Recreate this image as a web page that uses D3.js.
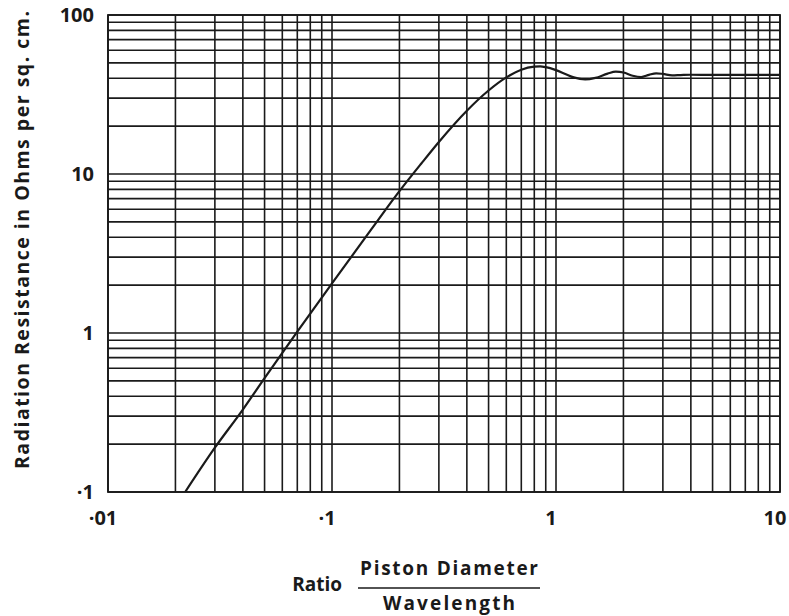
<!DOCTYPE html>
<html>
<head>
<meta charset="utf-8">
<script src="https://cdn.jsdelivr.net/npm/d3@7"></script>
<style>
    body { margin: 0; background: #fff; }
    text { font-family: "Open Sans", Lato, sans-serif; font-weight: bold; fill: #1a1a1a; }
</style>
</head>
<body>
<div id="container"></div>
<script>
// values
const ratio = [0.0221, 0.03, 0.04, 0.05, 0.07, 0.1, 0.15, 0.2, 0.25, 0.3, 0.4, 0.5, 0.6, 0.7, 0.8, 0.85,
    0.9, 1.0, 1.1, 1.2, 1.35, 1.5, 1.7, 1.85, 2.0, 2.2, 2.4, 2.6, 2.8, 3.0, 3.3, 3.6, 4, 5, 7, 10]
const resistance = [0.1, 0.19, 0.33, 0.52, 1.02, 2.05, 4.5, 7.8, 11.6, 15.9, 25, 33.5, 40.5, 45.3, 47.3, 47.5,
    47.0, 45.0, 42.6, 40.5, 39.3, 40.2, 42.8, 44.0, 43.5, 41.5, 40.7, 42.0, 43.0, 42.6, 41.7, 41.9, 42.1, 42, 42, 42]

const xTicks = [0.01, 0.1, 1, 10]
const xTickLabels = ["·01", "·1", "1", "10"]
const yTicks = [0.1, 1, 10, 100]
const yTickLabels = ["·1", "1", "10", "100"]

const margin = { top: 15, right: 9, bottom: 124, left: 108 }
const width = 789 - margin.left - margin.right
const height = 616 - margin.top - margin.bottom
const ink = "#1a1a1a"

const svg = d3.select("#container")
    .append("svg")
    .attr("width", 789)
    .attr("height", 616)

const g = svg.append("g")
    .attr("transform", "translate(" + [margin.left, margin.top] + ")")

const x = d3.scaleLog().domain([0.01, 10]).range([0, width])
const y = d3.scaleLog().domain([0.1, 100]).range([height, 0])

/********************* grid ************************/

g.append("g").selectAll("line")
    .data(x.ticks()).enter()
    .append("line")
    .attr("x1", d => x(d)).attr("x2", d => x(d))
    .attr("y1", 0).attr("y2", height)
    .attr("stroke", ink)
    .attr("stroke-width", 1.6)

g.append("g").selectAll("line")
    .data(y.ticks()).enter()
    .append("line")
    .attr("y1", d => y(d)).attr("y2", d => y(d))
    .attr("x1", 0).attr("x2", width)
    .attr("stroke", ink)
    .attr("stroke-width", 1.6)

g.append("rect")
    .attr("width", width).attr("height", height)
    .attr("fill", "none")
    .attr("stroke", ink)
    .attr("stroke-width", 1.8)

/********************* curve ************************/

g.append("clipPath").attr("id", "plot")
    .append("rect").attr("width", width).attr("height", height)

const line = d3.line()
    .x(d => x(d[0]))
    .y(d => y(d[1]))
    .curve(d3.curveMonotoneX)

g.append("path")
    .datum(d3.zip(ratio, resistance))
    .attr("clip-path", "url(#plot)")
    .attr("fill", "none")
    .attr("stroke", ink)
    .attr("stroke-width", 2.2)
    .attr("d", line)

/********************* labels ************************/

g.append("g").selectAll("text")
    .data(xTicks).enter()
    .append("text")
    .attr("x", d => x(d) - 5)
    .attr("y", height + 33)
    .attr("text-anchor", "middle")
    .style("font-size", "20px")
    .text((d, i) => xTickLabels[i])

g.append("g").selectAll("text")
    .data(yTicks).enter()
    .append("text")
    .attr("x", -14)
    .attr("y", d => y(d))
    .attr("dy", "0.36em")
    .attr("text-anchor", "end")
    .style("font-size", "20px")
    .text((d, i) => yTickLabels[i])

svg.append("text")
    .attr("transform", "translate(29,240) rotate(-90)")
    .attr("text-anchor", "middle")
    .attr("textLength", 458)
    .attr("lengthAdjust", "spacing")
    .style("font-size", "19.5px")
    .text("Radiation Resistance in Ohms per sq. cm.")

svg.append("text")
    .attr("x", 342).attr("y", 591)
    .attr("text-anchor", "end")
    .style("font-size", "19px")
    .text("Ratio")

svg.append("text")
    .attr("x", 360).attr("y", 575)
    .attr("textLength", 178)
    .attr("lengthAdjust", "spacing")
    .style("font-size", "19px")
    .text("Piston Diameter")

svg.append("line")
    .attr("x1", 358).attr("x2", 540)
    .attr("y1", 588).attr("y2", 588)
    .attr("stroke", ink)
    .attr("stroke-width", 1.5)

svg.append("text")
    .attr("x", 383).attr("y", 610)
    .attr("textLength", 132)
    .attr("lengthAdjust", "spacing")
    .style("font-size", "19px")
    .text("Wavelength")
</script>
</body>
</html>
